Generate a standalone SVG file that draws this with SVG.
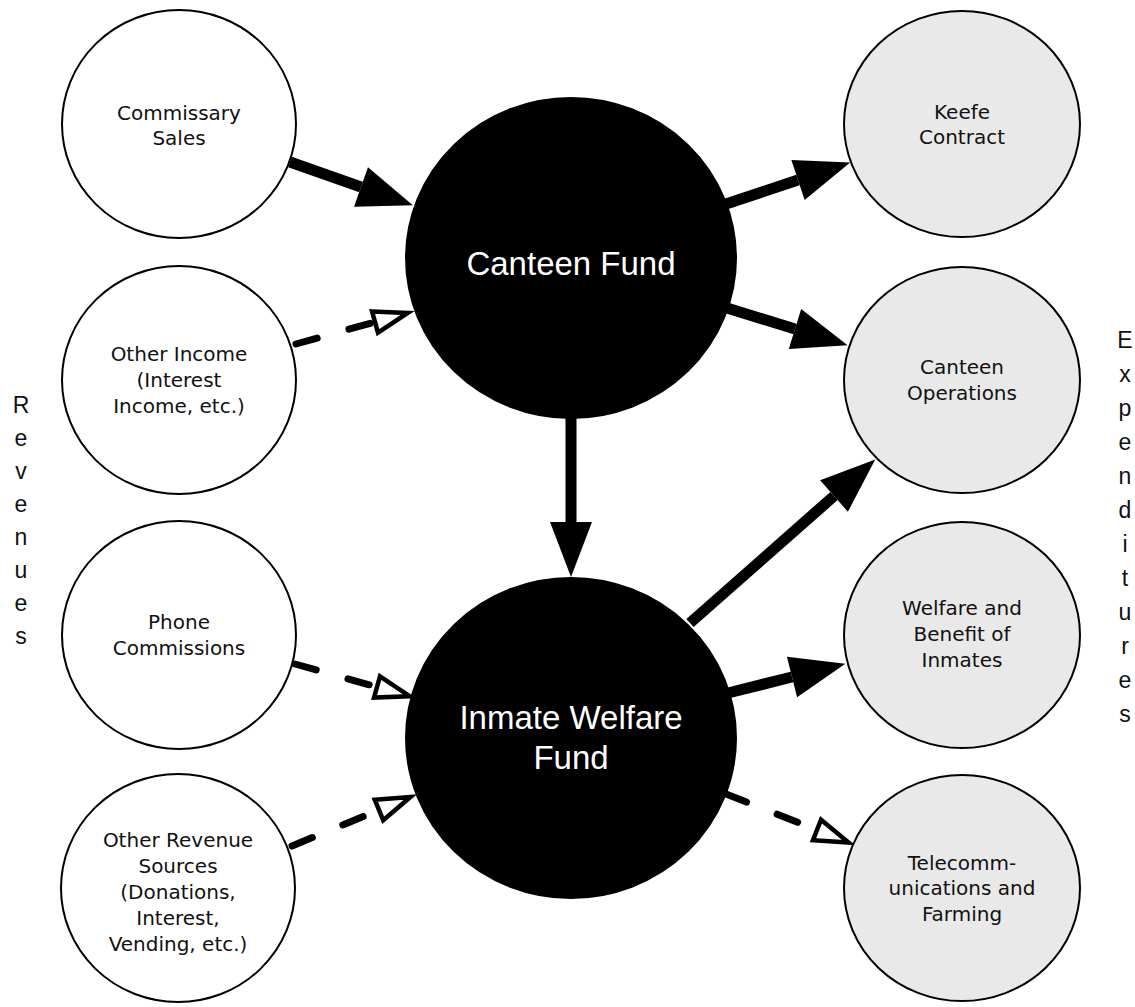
<svg xmlns="http://www.w3.org/2000/svg" width="1135" height="1007" viewBox="0 0 1135 1007">
<style>
.rev{fill:#fff;stroke:#000;stroke-width:2}
.exp{fill:#e9e9e9;stroke:#000;stroke-width:2}
.fund{fill:#000;stroke:#000;stroke-width:2}
.t{font-family:"DejaVu Sans",Verdana,sans-serif;font-size:20px;fill:#111;text-anchor:middle}
.ft{font-family:"Liberation Sans",Arial,sans-serif;font-size:33px;fill:#fff;text-anchor:middle}
.side{font-family:"Liberation Sans",Arial,sans-serif;font-size:23px;fill:#111;text-anchor:middle}
.solid{stroke:#000;stroke-width:11;fill:none;marker-end:url(#solidHead)}
.dash{stroke:#000;stroke-width:7;fill:none;stroke-linecap:round;stroke-dasharray:22 33;marker-end:url(#hollowHead)}
</style>
<defs>
<marker id="solidHead" markerUnits="userSpaceOnUse" markerWidth="60" markerHeight="50" viewBox="0 -25 60 50" refX="0" refY="0" orient="auto" overflow="visible">
<path d="M0,-21 L55,0 L0,21 z" fill="#000"/>
</marker>
<marker id="hollowHead" markerUnits="userSpaceOnUse" markerWidth="44" markerHeight="34" viewBox="-4 -17 44 34" refX="0" refY="0" orient="auto" overflow="visible">
<path d="M0,-11 L34,0 L0,11 z" fill="#fff" stroke="#000" stroke-width="4.5" stroke-linejoin="miter"/>
</marker>
</defs>

<g id="connectors">
<line class="solid" x1="290" y1="162" x2="361" y2="187"/>
<line class="dash" x1="296" y1="344" x2="375" y2="322"/>
<line class="dash" x1="295" y1="664" x2="377" y2="687"/>
<line class="dash" x1="292" y1="846" x2="379" y2="810"/>
<line class="solid" x1="723" y1="205" x2="798" y2="180"/>
<line class="solid" x1="727" y1="308" x2="795" y2="329"/>
<line class="solid" x1="571" y1="418" x2="571" y2="522"/>
<line class="solid" x1="690" y1="623" x2="834" y2="496"/>
<line class="solid" x1="728" y1="693" x2="792" y2="677"/>
<line class="dash" x1="726" y1="794" x2="817" y2="830"/>
</g>

<g id="commissary-sales">
<ellipse class="rev" cx="179" cy="124" rx="117" ry="114"/>
<text class="t" x="179" y="120">Commissary</text>
<text class="t" x="179" y="145">Sales</text>
</g>
<g id="other-income">
<ellipse class="rev" cx="179" cy="380" rx="117" ry="114"/>
<text class="t" x="179" y="361">Other Income</text>
<text class="t" x="179" y="387">(Interest</text>
<text class="t" x="179" y="413">Income, etc.)</text>
</g>
<g id="phone-commissions">
<ellipse class="rev" cx="179" cy="635" rx="117" ry="114"/>
<text class="t" x="179" y="629">Phone</text>
<text class="t" x="179" y="655">Commissions</text>
</g>
<g id="other-revenue-sources">
<ellipse class="rev" cx="178" cy="888" rx="117" ry="114"/>
<text class="t" x="178" y="847">Other Revenue</text>
<text class="t" x="178" y="873">Sources</text>
<text class="t" x="178" y="899">(Donations,</text>
<text class="t" x="178" y="925">Interest,</text>
<text class="t" x="178" y="951">Vending, etc.)</text>
</g>

<g id="canteen-fund">
<ellipse class="fund" cx="571" cy="258" rx="165" ry="160"/>
<text class="ft" x="571" y="275">Canteen Fund</text>
</g>
<g id="inmate-welfare-fund">
<ellipse class="fund" cx="571" cy="738" rx="165" ry="160"/>
<text class="ft" x="571" y="729">Inmate Welfare</text>
<text class="ft" x="571" y="769">Fund</text>
</g>

<g id="keefe-contract">
<ellipse class="exp" cx="962" cy="124" rx="118" ry="113"/>
<text class="t" x="962" y="119">Keefe</text>
<text class="t" x="962" y="144">Contract</text>
</g>
<g id="canteen-operations">
<ellipse class="exp" cx="962" cy="380" rx="118" ry="113"/>
<text class="t" x="962" y="374">Canteen</text>
<text class="t" x="962" y="400">Operations</text>
</g>
<g id="welfare-benefit">
<ellipse class="exp" cx="962" cy="635" rx="118" ry="113"/>
<text class="t" x="962" y="615">Welfare and</text>
<text class="t" x="962" y="641">Benefit of</text>
<text class="t" x="962" y="667">Inmates</text>
</g>
<g id="telecommunications-farming">
<ellipse class="exp" cx="962" cy="888" rx="118" ry="113"/>
<text class="t" x="962" y="870">Telecomm-</text>
<text class="t" x="962" y="895">unications and</text>
<text class="t" x="962" y="921">Farming</text>
</g>

<g id="revenues-label">
<text class="side" x="21" y="413">R</text>
<text class="side" x="21" y="446">e</text>
<text class="side" x="21" y="479">v</text>
<text class="side" x="21" y="512">e</text>
<text class="side" x="21" y="545">n</text>
<text class="side" x="21" y="578">u</text>
<text class="side" x="21" y="611">e</text>
<text class="side" x="21" y="644">s</text>
</g>
<g id="expenditures-label">
<text class="side" x="1125" y="348">E</text>
<text class="side" x="1125" y="382">x</text>
<text class="side" x="1125" y="416">p</text>
<text class="side" x="1125" y="450">e</text>
<text class="side" x="1125" y="484">n</text>
<text class="side" x="1125" y="518">d</text>
<text class="side" x="1125" y="552">i</text>
<text class="side" x="1125" y="586">t</text>
<text class="side" x="1125" y="620">u</text>
<text class="side" x="1125" y="654">r</text>
<text class="side" x="1125" y="688">e</text>
<text class="side" x="1125" y="722">s</text>
</g>
</svg>
